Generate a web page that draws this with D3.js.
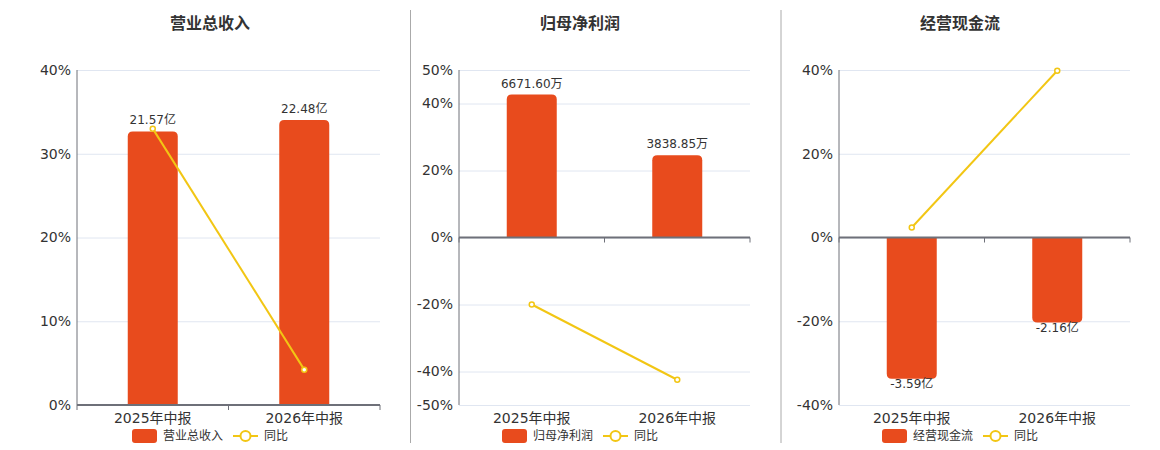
<!DOCTYPE html>
<html>
<head>
<meta charset="utf-8">
<script src="https://cdn.jsdelivr.net/npm/d3@7/dist/d3.min.js"></script>
<style>
  html, body { margin: 0; padding: 0; background: #fff; }
  svg { display: block; font-family: "DejaVu Sans", "Noto Sans CJK SC", sans-serif; }
</style>
</head>
<body>
<svg id="chart" width="1160" height="450"></svg>
<script>
// ---- data ----
const categories = ["2025年中报", "2026年中报"];

const revenueTitle = "营业总收入";
const revenueValues = [21.57, 22.48];     // 亿
const revenueYoY = [33.0, 4.22];          // %
const revenueTicks = [0, 10, 20, 30, 40];
const revenueBarDomain = [0, 26.42];

const profitTitle = "归母净利润";
const profitValues = [6671.60, 3838.85];  // 万
const profitYoY = [-20.0, -42.46];
const profitTicks = [-50, -40, -20, 0, 20, 40, 50];
const profitBarDomain = [-7815, 7815];

const cashTitle = "经营现金流";
const cashValues = [-3.59, -2.16];        // 亿
const cashYoY = [2.4, 39.83];
const cashTicks = [-40, -20, 0, 20, 40];
const cashBarDomain = [-4.256, 4.256];

const yoyName = "同比";

// ---- styles ----
const BAR_COLOR = "#E84B1D";
const LINE_COLOR = "#F2C614";
const GRID_COLOR = "#E0E6F1";
const AXIS_COLOR = "#6E7079";
const TEXT_COLOR = "#333";

const panels = [
  { title: revenueTitle, values: revenueValues, yoy: revenueYoY, ticks: revenueTicks,
    barDomain: revenueBarDomain, unit: "亿", fmt: d => d.toFixed(2),
    left: 77, right: 380, center: 210 },
  { title: profitTitle, values: profitValues, yoy: profitYoY, ticks: profitTicks,
    barDomain: profitBarDomain, unit: "万", fmt: d => d.toFixed(2),
    left: 459, right: 750, center: 580 },
  { title: cashTitle, values: cashValues, yoy: cashYoY, ticks: cashTicks,
    barDomain: cashBarDomain, unit: "亿", fmt: d => d.toFixed(2),
    left: 839, right: 1130, center: 960 }
];

const svg = d3.select("#chart");
const TOP = 70, BOTTOM = 405, BAR_W = 50, R = 5;

// dividers
[410.5, 781].forEach(x => {
  svg.append("line").attr("x1", x).attr("x2", x).attr("y1", 10).attr("y2", 443)
    .attr("stroke", "#aaa").attr("stroke-width", 1);
});

function barPath(x0, w, yBase, yEnd, r) {
  const up = yEnd < yBase;
  const h = Math.abs(yBase - yEnd);
  r = Math.min(r, h, w / 2);
  const x1 = x0 + w;
  if (up) {
    return `M${x0},${yBase}L${x0},${yEnd + r}Q${x0},${yEnd} ${x0 + r},${yEnd}` +
      `L${x1 - r},${yEnd}Q${x1},${yEnd} ${x1},${yEnd + r}L${x1},${yBase}Z`;
  } else {
    return `M${x0},${yBase}L${x0},${yEnd - r}Q${x0},${yEnd} ${x0 + r},${yEnd}` +
      `L${x1 - r},${yEnd}Q${x1},${yEnd} ${x1},${yEnd - r}L${x1},${yBase}Z`;
  }
}

panels.forEach(p => {
  const g = svg.append("g");
  const x = d3.scaleBand().domain(categories).range([p.left, p.right]).paddingInner(0).paddingOuter(0);
  const yPct = d3.scaleLinear().domain(d3.extent(p.ticks)).range([BOTTOM, TOP]);
  const yBar = d3.scaleLinear().domain(p.barDomain).range([BOTTOM, TOP]);
  const width = p.right - p.left;

  // title
  g.append("text").attr("x", p.center).attr("y", 23).attr("text-anchor", "middle")
    .attr("dominant-baseline", "central").attr("font-size", 16).attr("font-weight", "bold")
    .attr("fill", TEXT_COLOR).text(p.title);

  // grid + y labels
  const yAxis = d3.axisLeft(yPct).tickValues(p.ticks).tickSize(-width).tickPadding(6)
    .tickFormat(d => d + "%");
  const ya = g.append("g").attr("transform", `translate(${p.left},0)`).call(yAxis);
  ya.select(".domain").remove();
  ya.selectAll(".tick line").attr("stroke", GRID_COLOR).attr("stroke-width", 1);
  ya.selectAll(".tick text").attr("font-size", 14).attr("fill", TEXT_COLOR)
    .attr("font-family", "DejaVu Sans, sans-serif");

  // y axis line
  g.append("line").attr("x1", p.left).attr("x2", p.left).attr("y1", TOP).attr("y2", BOTTOM)
    .attr("stroke", AXIS_COLOR).attr("stroke-width", 1);

  // bars
  const y0 = yBar(0);
  g.selectAll("path.bar").data(p.values).enter().append("path").attr("class", "bar")
    .attr("d", (d, i) => barPath(x(categories[i]) + x.bandwidth() / 2 - BAR_W / 2, BAR_W, y0, yBar(d), R))
    .attr("fill", BAR_COLOR);

  // x axis line at zero
  const zeroY = yPct(0);
  g.append("line").attr("x1", p.left).attr("x2", p.right).attr("y1", zeroY).attr("y2", zeroY)
    .attr("stroke", AXIS_COLOR).attr("stroke-width", 2);
  const bounds = d3.range(categories.length + 1).map(i => p.left + i * x.step());
  g.selectAll("line.xtick").data(bounds).enter().append("line").attr("class", "xtick")
    .attr("x1", d => d).attr("x2", d => d).attr("y1", zeroY).attr("y2", zeroY + 5)
    .attr("stroke", AXIS_COLOR).attr("stroke-width", 1);

  // x labels at bottom
  const xAxis = d3.axisBottom(x).tickSize(0).tickPadding(8);
  const xa = g.append("g").attr("transform", `translate(0,${BOTTOM})`).call(xAxis);
  xa.select(".domain").remove();
  xa.selectAll(".tick text").attr("font-size", 14).attr("fill", TEXT_COLOR)
    .attr("font-family", "DejaVu Sans, Noto Sans CJK SC, sans-serif");

  // bar labels
  g.selectAll("text.blabel").data(p.values).enter().append("text").attr("class", "blabel")
    .attr("x", (d, i) => x(categories[i]) + x.bandwidth() / 2)
    .attr("y", d => d >= 0 ? yBar(d) - 11 : yBar(d) + 5)
    .attr("text-anchor", "middle").attr("dominant-baseline", "central")
    .attr("font-size", 12).attr("fill", TEXT_COLOR)
    .text(d => p.fmt(d) + p.unit);

  // yoy line
  const line = d3.line().x((d, i) => x(categories[i]) + x.bandwidth() / 2).y(d => yPct(d));
  g.append("path").datum(p.yoy).attr("d", line).attr("fill", "none")
    .attr("stroke", LINE_COLOR).attr("stroke-width", 2);
  g.selectAll("circle.pt").data(p.yoy).enter().append("circle").attr("class", "pt")
    .attr("cx", (d, i) => x(categories[i]) + x.bandwidth() / 2).attr("cy", d => yPct(d))
    .attr("r", 2.5).attr("fill", "#fff").attr("stroke", LINE_COLOR).attr("stroke-width", 1.5);

  // legend
  const lg = g.append("g");
  const ly = 436;
  const nameW = p.title.length * 12;
  const totalW = 25 + 6 + nameW + 10 + 25 + 6 + 24;
  let lx = p.center - totalW / 2;
  lg.append("rect").attr("x", lx).attr("y", ly - 7).attr("width", 25).attr("height", 14)
    .attr("rx", 3).attr("fill", BAR_COLOR);
  lg.append("text").attr("x", lx + 31).attr("y", ly).attr("dominant-baseline", "central")
    .attr("font-size", 12).attr("fill", TEXT_COLOR).text(p.title);
  lx = lx + 31 + nameW + 10;
  lg.append("line").attr("x1", lx).attr("x2", lx + 25).attr("y1", ly).attr("y2", ly)
    .attr("stroke", LINE_COLOR).attr("stroke-width", 2);
  lg.append("circle").attr("cx", lx + 12.5).attr("cy", ly).attr("r", 5)
    .attr("fill", "#fff").attr("stroke", LINE_COLOR).attr("stroke-width", 2);
  lg.append("text").attr("x", lx + 31).attr("y", ly).attr("dominant-baseline", "central")
    .attr("font-size", 12).attr("fill", TEXT_COLOR).text(yoyName);
});
</script>
</body>
</html>
